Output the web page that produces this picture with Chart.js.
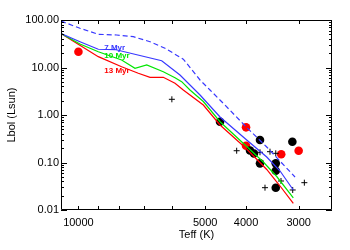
<!DOCTYPE html>
<html>
<head>
<meta charset="utf-8">
<script src="https://cdn.jsdelivr.net/npm/chart.js@4/dist/chart.umd.min.js"></script>
<style>
html,body{margin:0;padding:0;background:#fff;}
canvas{display:block;}
</style>
</head>
<body>
<canvas id="c" width="350" height="250"></canvas>
<script>
// ---- data ----
const teffDash = [11000, 9916, 8971, 8111, 7408, 6761, 6229, 5637, 5144, 4871, 4529, 3985, 3572, 3060];
const lumDash  = [95, 66.9, 50, 48.3, 44.5, 34.9, 25.4, 15.0, 5.46, 3.36, 1.76, 0.546, 0.212, 0.0495];

const teff7 = [11000, 9916, 8971, 8187, 6343, 5740, 5144, 4611, 3985, 3572, 3321, 3089];
const lum7  = [52, 34.9, 24.2, 23.9, 13.9, 6.95, 2.64, 0.908, 0.298, 0.1305, 0.0662, 0.0264];

const teff10 = [11000, 9916, 8971, 7897, 7340, 6884, 6288, 5898, 5687, 5435, 5052, 4611, 3985, 3639, 3382, 3089];
const lum10  = [52, 31.2, 21.5, 14.4, 9.62, 11.3, 8.16, 6.1, 5.03, 3.36, 1.92, 0.722, 0.217, 0.1025, 0.0507, 0.0179];

const teff13 = [11000, 8971, 7897, 7209, 6761, 6288, 5898, 5637, 5052, 4611, 3985, 3572, 3321, 3089];
const lum13  = [52, 16.9, 10.4, 7.55, 6.22, 6.22, 4.65, 3.36, 1.62, 0.616, 0.192, 0.0713, 0.032, 0.0138];

const redTeff = [10000, 4000, 4000, 3300, 3000];
const redLum  = [21.5, 0.55, 0.226, 0.149, 0.177];

const blackTeff = [4611, 3706, 3105, 3914, 3830, 3706, 3400, 3400, 3400];
const blackLum  = [0.72, 0.298, 0.274, 0.179, 0.155, 0.096, 0.096, 0.0672, 0.0295];

const plusTeff = [6000, 4210, 3706, 3509, 3400, 3304, 2908, 3606, 3099];
const plusLum  = [2.14, 0.177, 0.164, 0.169, 0.156, 0.0408, 0.0376, 0.0295, 0.0264];

const xTickValues = [10000, 9000, 8000, 7000, 6000, 5000, 4000, 3000];
const xTickLabels = ['10000', '', '', '', '', '5000', '4000', '3000'];
const yTickValues = [100, 10, 1, 0.1, 0.01];
const yTickLabels = ['100.00', '10.00', '1.00', '0.10', '0.01'];

const seriesNames = ['7 Myr', '10 Myr', '13 Myr'];

// ---- styles ----
const BLUE = '#3838ff', GREEN = '#00e600', RED = '#ff0000';
const FONT = "'Liberation Sans', Arial, Helvetica, sans-serif";

function pts(xs, ys){ return xs.map((x,i)=>({x:x, y:ys[i]})); }

const yMinor = [];
[0.01,0.1,1,10].forEach(d=>{ for(let m=2;m<=9;m++) yMinor.push(d*m); });

const labelAnchors = [
  {text: seriesNames[0], color: BLUE,  x: 8682, y: 26.6},
  {text: seriesNames[1], color: GREEN, x: 8682, y: 17.7},
  {text: seriesNames[2], color: RED,   x: 8682, y: 8.44}
];

const framePlugin = {
  id: 'frame',
  afterDraw(chart){
    const {ctx, chartArea:a, scales:{x, y}} = chart;
    ctx.save();
    ctx.strokeStyle = '#000';
    ctx.lineWidth = 1;
    ctx.beginPath();
    ctx.rect(Math.round(a.left)+0.5, Math.round(a.top)+0.5, Math.round(a.right-a.left)-1, Math.round(a.bottom-a.top)-1);
    ctx.stroke();
    ctx.beginPath();
    xTickValues.forEach(v=>{
      const px = Math.round(x.getPixelForValue(v))+0.5;
      ctx.moveTo(px, a.bottom); ctx.lineTo(px, a.bottom-4);
      ctx.moveTo(px, a.top); ctx.lineTo(px, a.top+4);
    });
    yTickValues.forEach(v=>{
      const py = Math.round(y.getPixelForValue(v))+0.5;
      ctx.moveTo(a.left, py); ctx.lineTo(a.left+6, py);
      ctx.moveTo(a.right, py); ctx.lineTo(a.right-6, py);
    });
    yMinor.forEach(v=>{
      const py = Math.round(y.getPixelForValue(v))+0.5;
      ctx.moveTo(a.left, py); ctx.lineTo(a.left+3, py);
      ctx.moveTo(a.right, py); ctx.lineTo(a.right-3, py);
    });
    ctx.stroke();
    ctx.font = "bold 8px " + FONT;
    ctx.textAlign = 'left';
    ctx.textBaseline = 'middle';
    labelAnchors.forEach(l=>{
      ctx.fillStyle = l.color;
      ctx.fillText(l.text, x.getPixelForValue(l.x), y.getPixelForValue(l.y));
    });
    ctx.restore();
  }
};

const lineDs = (data, color, dash) => ({
  data, showLine: true, borderColor: color, backgroundColor: color,
  borderWidth: 1.2, pointRadius: 0, borderDash: dash || [], tension: 0, fill: false
});

new Chart(document.getElementById('c'), {
  type: 'scatter',
  data: {
    datasets: [
      lineDs(pts(teffDash, lumDash), BLUE, [5,3]),
      lineDs(pts(teff7, lum7), BLUE),
      lineDs(pts(teff10, lum10), GREEN),
      lineDs(pts(teff13, lum13), RED),
      { data: pts(plusTeff, plusLum), pointStyle: 'cross', pointRadius: 3, borderColor: '#000', borderWidth: 1, showLine: false },
      { data: pts(blackTeff, blackLum), pointStyle: 'circle', pointRadius: 4.3, backgroundColor: '#000', borderWidth: 0, showLine: false },
      { data: pts(redTeff, redLum), pointStyle: 'circle', pointRadius: 4.3, backgroundColor: RED, borderWidth: 0, showLine: false }
    ]
  },
  options: {
    responsive: false,
    animation: false,
    devicePixelRatio: 1,
    layout: { padding: { top: 20, right: 18, left: 0, bottom: 0 } },
    plugins: { legend: { display: false }, tooltip: { enabled: false } },
    scales: {
      x: {
        type: 'logarithmic', reverse: true, min: 2500, max: 11000,
        afterBuildTicks: s => { s.ticks = xTickValues.map(v => ({value: v})); },
        afterFit: s => { s.height = 40; },
        ticks: {
          autoSkip: false, maxRotation: 0, minRotation: 0, padding: 6, color: '#000',
          font: { family: FONT, size: 11 },
          callback: (v, i) => xTickLabels[i]
        },
        grid: { display: false, drawTicks: false },
        border: { display: false },
        title: { display: true, text: 'Teff (K)', color: '#000', font: { family: FONT, size: 11 }, padding: { top: 0, bottom: 8 } }
      },
      y: {
        type: 'logarithmic', min: 0.01, max: 100,
        afterBuildTicks: s => { s.ticks = yTickValues.map(v => ({value: v})); },
        afterFit: s => { s.width = 61; },
        ticks: {
          autoSkip: false, padding: 2, color: '#000',
          font: { family: FONT, size: 11 },
          callback: (v, i) => yTickLabels[i]
        },
        grid: { display: false, drawTicks: false },
        border: { display: false },
        title: { display: true, text: 'Lbol (Lsun)', color: '#000', font: { family: FONT, size: 11 }, padding: { top: 5, bottom: 0 } }
      }
    }
  },
  plugins: [framePlugin]
});
</script>
</body>
</html>
